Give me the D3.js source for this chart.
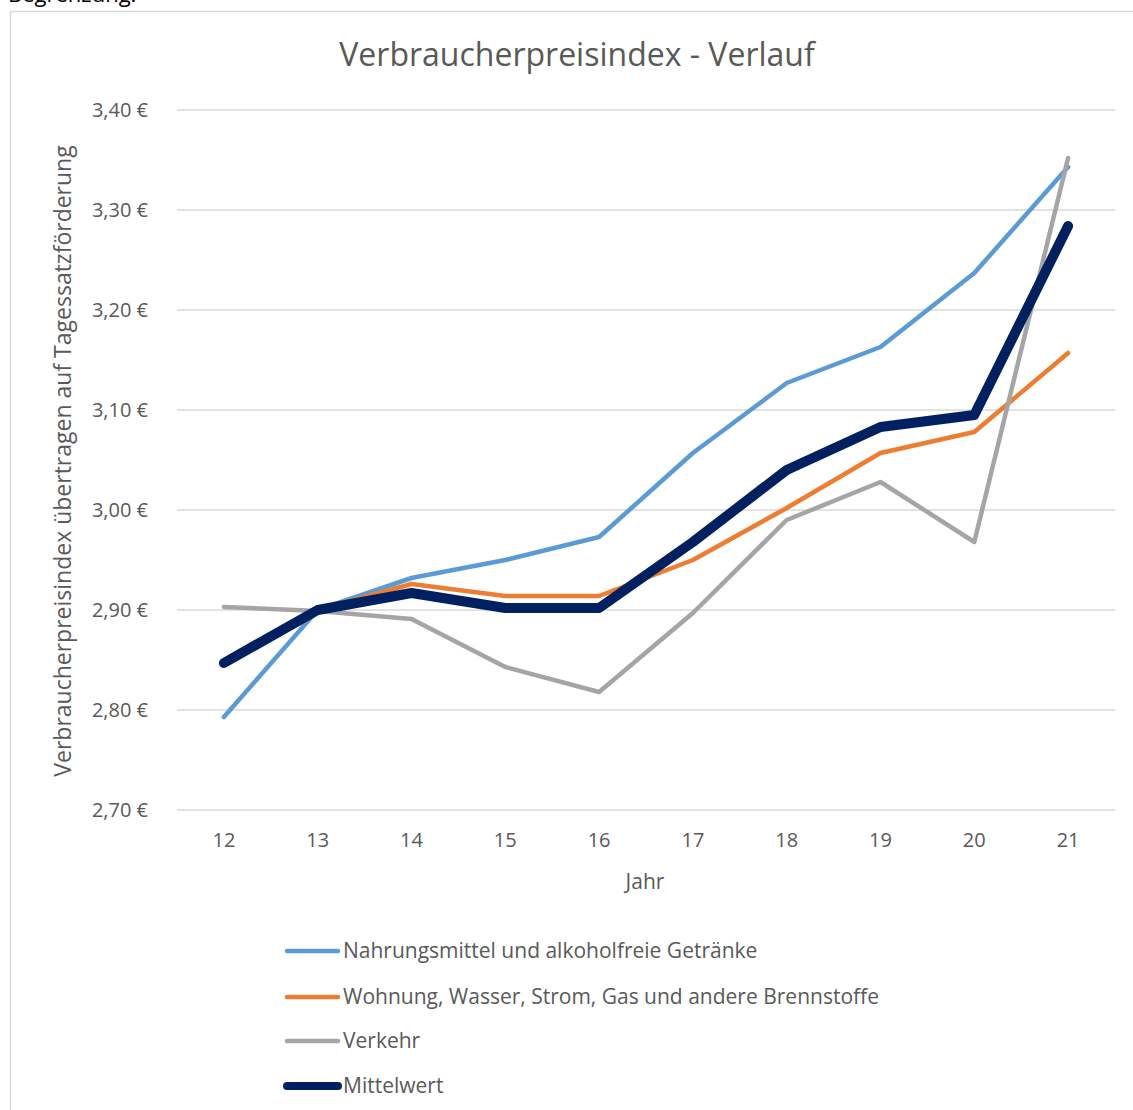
<!DOCTYPE html>
<html>
<head>
<meta charset="utf-8">
<script src="https://cdn.jsdelivr.net/npm/d3@7"></script>
<style>
  body { margin: 0; background: #fff; }
  text { font-family: "Open Sans", "Noto Sans", sans-serif; }
</style>
</head>
<body>
<svg id="chart"></svg>
<script>
var width = 1133;
var height = 1110;

var years = ["12", "13", "14", "15", "16", "17", "18", "19", "20", "21"];
var seriesNames = [
  "Nahrungsmittel und alkoholfreie Getränke",
  "Wohnung, Wasser, Strom, Gas und andere Brennstoffe",
  "Verkehr",
  "Mittelwert"
];
var nahrung  = [2.793, 2.900, 2.932, 2.950, 2.973, 3.057, 3.127, 3.163, 3.237, 3.343];
var wohnung  = [2.845, 2.900, 2.926, 2.914, 2.914, 2.950, 3.002, 3.057, 3.078, 3.157];
var verkehr  = [2.903, 2.899, 2.891, 2.843, 2.818, 2.897, 2.990, 3.028, 2.968, 3.352];
var mittel   = [2.847, 2.900, 2.917, 2.902, 2.902, 2.968, 3.040, 3.083, 3.095, 3.284];
var yTicks   = [2.7, 2.8, 2.9, 3.0, 3.1, 3.2, 3.3, 3.4];

var colors = ["#5B9BD5", "#ED7D31", "#A5A5A5", "#002060"];
var widths = [4.5, 4.5, 4.5, 10];

var series = [nahrung, wohnung, verkehr, mittel].map((vals, i) => ({
  name: seriesNames[i],
  values: vals,
  color: colors[i],
  width: widths[i]
}));

var svg = d3.select("#chart")
    .attr("width", width)
    .attr("height", height);

// text of the page above the chart, cut off by the crop
svg.append("text")
    .attr("x", 8)
    .attr("y", 2)
    .attr("font-size", 22)
    .attr("fill", "#000")
    .text("Begrenzung.");

// chart area border
svg.append("rect")
    .attr("x", 10.5)
    .attr("y", 11.5)
    .attr("width", 1140)
    .attr("height", 1120)
    .attr("fill", "none")
    .attr("stroke", "#D9D9D9")
    .attr("stroke-width", 1.5);

var xScale = d3.scaleBand()
    .domain(years)
    .range([177, 1115]);

var yScale = d3.scaleLinear()
    .domain([2.7, 3.4])
    .range([810, 110]);

var fmt = d => d3.format(".2f")(d).replace(".", ",") + " €";

// gridlines
svg.append("g")
  .selectAll("line")
  .data(yTicks)
  .enter()
  .append("line")
    .attr("x1", 177)
    .attr("x2", 1115)
    .attr("y1", d => yScale(d))
    .attr("y2", d => yScale(d))
    .attr("stroke", "#D9D9D9")
    .attr("stroke-width", 1.5);

// y axis labels
var yAxis = svg.append("g")
    .attr("transform", "translate(177,0)")
    .call(d3.axisLeft(yScale).tickValues(yTicks).tickFormat(fmt).tickSize(0).tickPadding(29));
yAxis.select(".domain").remove();
yAxis.selectAll("text")
    .attr("font-size", 20)
    .attr("fill", "#595959")
    .style("font-family", "'Open Sans', sans-serif");

// x axis labels
var xAxis = svg.append("g")
    .attr("transform", "translate(0,810)")
    .call(d3.axisBottom(xScale).tickSize(0).tickPadding(23));
xAxis.select(".domain").remove();
xAxis.selectAll("text")
    .attr("font-size", 20)
    .attr("fill", "#595959")
    .style("font-family", "'Open Sans', sans-serif");

// title
svg.append("text")
    .attr("x", 577)
    .attr("y", 66)
    .attr("text-anchor", "middle")
    .attr("font-size", 32)
    .attr("fill", "#595959")
    .text("Verbraucherpreisindex - Verlauf");

// axis titles
svg.append("text")
    .attr("x", 645)
    .attr("y", 889)
    .attr("text-anchor", "middle")
    .attr("font-size", 21)
    .attr("fill", "#595959")
    .text("Jahr");

svg.append("text")
    .attr("transform", "translate(71,461) rotate(-90)")
    .attr("text-anchor", "middle")
    .attr("font-size", 23)
    .attr("fill", "#595959")
    .text("Verbraucherpreisindex übertragen auf Tagessatzförderung");

// lines
var line = d3.line()
    .x((d, i) => xScale(years[i]) + xScale.bandwidth() / 2)
    .y(d => yScale(d));

svg.append("g")
  .selectAll("path")
  .data(series)
  .enter()
  .append("path")
    .attr("d", d => line(d.values))
    .attr("fill", "none")
    .attr("stroke", d => d.color)
    .attr("stroke-width", d => d.width)
    .attr("stroke-linecap", "round")
    .attr("stroke-linejoin", "round");

// legend
var legend = svg.append("g")
  .selectAll(".legend")
  .data(series)
  .enter()
  .append("g")
    .classed("legend", true)
    .attr("transform", (d, i) => "translate(0," + [951, 997, 1041, 1086][i] + ")");

legend.append("line")
    .attr("x1", 287)
    .attr("x2", 338)
    .attr("y1", 0)
    .attr("y2", 0)
    .attr("stroke", d => d.color)
    .attr("stroke-width", d => d.width === 10 ? 8 : 4.5)
    .attr("stroke-linecap", "round");

legend.append("text")
    .attr("x", 343)
    .attr("y", 7)
    .attr("font-size", 21)
    .attr("fill", "#595959")
    .text(d => d.name);
</script>
</body>
</html>
